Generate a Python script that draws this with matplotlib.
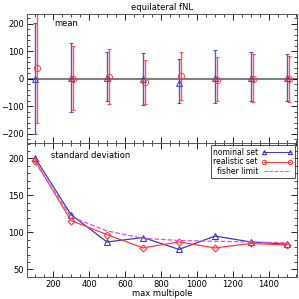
import numpy as np
import matplotlib
matplotlib.use('Agg')
import matplotlib.pyplot as plt
from matplotlib.ticker import MultipleLocator

# max multipole values
lmax = [100, 300, 500, 700, 900, 1100, 1300, 1500]

# mean fNL, with upper / lower error bar ends
nom_mean = [0, 2, 5, 0, -14, 5, 2, 2]
nom_hi = [204, 131, 98, 95, 73, 105, 98, 91]
nom_lo = [-200, -120, -80, -95, -88, -87, -80, -80]
real_mean = [40, 0, 8, -12, 10, -3, 0, 0]
real_hi = [280, 120, 109, 69, 98, 80, 90, 84]
real_lo = [-160, -113, -91, -91, -76, -80, -84, -84]

# standard deviation
nom_std = [201, 124, 87, 93, 77, 95, 87, 84]
real_std = [197, 116, 97, 79, 87, 79, 85, 83]
fisher = [195, 121, 102, 92, 89, 88, 87, 86]

blue = '#3c3cb4'
red = '#ff3c3c'
mag = '#dc50dc'

plt.rcParams['font.size'] = 6
plt.rcParams['font.family'] = 'DejaVu Sans'

fig = plt.figure(figsize=(2.99, 2.99), dpi=100)
ax1 = fig.add_axes([0.090, 0.522, 0.903, 0.431])
ax2 = fig.add_axes([0.090, 0.072, 0.903, 0.450])

x = np.array(lmax)
xr = x + 10

# top panel: mean
ax1.axhline(0, color='gray', lw=1.5, zorder=1)
nm = np.array(nom_mean)
rm = np.array(real_mean)
ax1.errorbar(x, nm, yerr=[nm - np.array(nom_lo), np.array(nom_hi) - nm],
             fmt='^', color=blue, mfc='none', ms=4.5, mew=0.8, ecolor=blue,
             elinewidth=1, capsize=1.5, capthick=0.8, alpha=0.85)
ax1.errorbar(xr, rm, yerr=[rm - np.array(real_lo), np.array(real_hi) - rm],
             fmt='o', color=red, mfc='none', ms=4.5, mew=0.8, ecolor=red,
             elinewidth=1, capsize=1.5, capthick=0.8, alpha=0.85)
ax1.set_xlim(55, 1555)
ax1.set_ylim(-233, 236)
ax1.set_xticklabels([])
ax1.xaxis.set_major_locator(MultipleLocator(200))
ax1.xaxis.set_minor_locator(MultipleLocator(50))
ax1.yaxis.set_major_locator(MultipleLocator(100))
ax1.yaxis.set_minor_locator(MultipleLocator(20))
ax1.text(0.10, 0.93, 'mean', transform=ax1.transAxes, fontsize=6, va='center')
ax1.set_title('equilateral fNL', fontsize=6, pad=3)

# bottom panel: standard deviation
ax2.plot(x, nom_std, '-^', color=blue, mfc='none', ms=4.5, mew=0.8, lw=0.9,
         label='nominal set')
ax2.plot(x, real_std, '-D', color=red, mfc='none', ms=3.5, mew=0.8, lw=0.9,
         label='realistic set')
ax2.plot(x, fisher, '--', color=mag, lw=0.9, label='fisher limit')
ax2.set_xlim(55, 1555)
ax2.set_ylim(39, 221)
ax2.xaxis.set_major_locator(MultipleLocator(200))
ax2.xaxis.set_minor_locator(MultipleLocator(50))
ax2.yaxis.set_major_locator(MultipleLocator(50))
ax2.yaxis.set_minor_locator(MultipleLocator(10))
ax2.set_xticks([200, 400, 600, 800, 1000, 1200, 1400])
ax2.set_xlabel('max multipole', fontsize=6, labelpad=0)
ax2.text(0.09, 0.91, 'standard deviation', transform=ax2.transAxes,
         fontsize=6, va='center')
leg = ax2.legend(loc='upper right', fontsize=5.5, frameon=True, fancybox=False,
                 edgecolor='black', handlelength=4, borderpad=0.3,
                 labelspacing=0.1, handletextpad=0.5, borderaxespad=0.3,
                 markerfirst=False, numpoints=2)
leg.get_frame().set_linewidth(0.6)
# open circles in the legend for the realistic set, small markers
leg.legend_handles[1].set_marker('o')
for h in leg.legend_handles:
    h.set_markersize(3)
    h.set_linewidth(0.7)

for ax in (ax1, ax2):
    ax.tick_params(which='both', direction='in', top=True, right=True,
                   labelsize=6, pad=2)
    ax.tick_params(which='major', length=4, width=0.6)
    ax.tick_params(which='minor', length=2, width=0.5)
    for s in ax.spines.values():
        s.set_linewidth(0.7)
        s.set_color('#555555')

fig.savefig('out.png', dpi=100)
